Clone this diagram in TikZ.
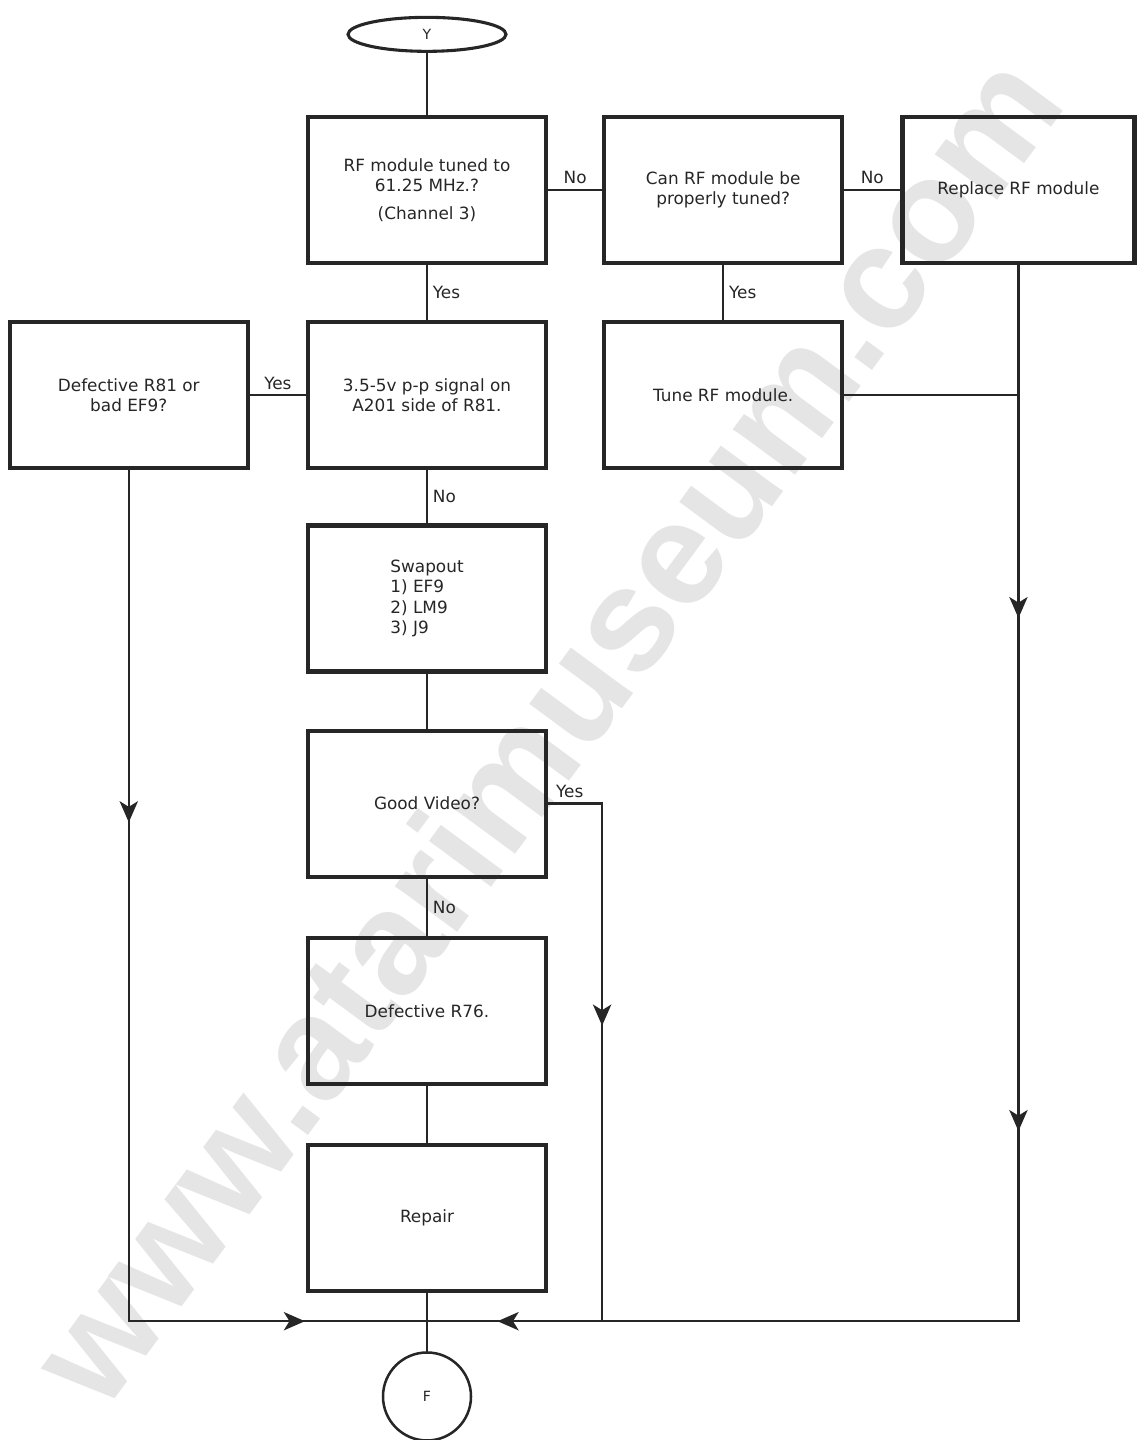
\documentclass[tikz,border=0pt]{standalone}
\usepackage{fontspec}
\setmainfont{DejaVu Sans}
\newfontfamily\markfont{Liberation Sans}
\usetikzlibrary{positioning,shapes.geometric,arrows.meta,decorations.markings}
\tikzset{
  stepbox/.style={draw=black!85, line width=3pt, minimum width=5.95cm, minimum height=3.65cm,
    align=center, font=\fontsize{12}{14.5}\selectfont, text=black!85},
  flow/.style={color=black!85, line width=1.7pt},
  >={Stealth[length=15pt,width=13pt,inset=4pt]},
}

\begin{document}
\begin{tikzpicture}[node distance=1.375cm, auto, every node/.append style={font=\fontsize{12}{14}\selectfont, text=black!85}]
\useasboundingbox (0,0) rectangle (28.4,-36);
\node [rotate=53.6, text=black!10, font=\markfont\bfseries\fontsize{104}{104}\selectfont] (mark) at (13.6,-18.2) {www.atarimuseum.com};
\node [stepbox] (tuned) at (10.675,-4.75) {RF module tuned to\\61.25 MHz.?\\[5pt](Channel 3)};
  \node [stepbox] (canTune) [right=1.35cm of tuned] {Can RF module be\\properly tuned?};
  \node [stepbox, minimum width=5.8cm] (replace) [right=1.4cm of canTune] {Replace RF module};
  \node [stepbox] (signal) [below=of tuned] {3.5-5v p-p signal on\\A201 side of R81.};
  \node [stepbox] (defR81) [left=1.4cm of signal] {Defective R81 or\\bad EF9?};
  \node [stepbox] (tune) [below=of canTune] {Tune RF module.};
  \node [stepbox, align=left] (swap) [below=1.325cm of signal] {Swapout\\1) EF9\\2) LM9\\3) J9};
  \node [stepbox] (video) [below=1.375cm of swap] {Good Video?};
  \node [stepbox] (defR76) [below=1.425cm of video] {Defective R76.};
  \node [stepbox] (repair) [below=1.425cm of defR76] {Repair};
  \node [ellipse, draw=black!85, line width=2.2pt, minimum width=3.95cm, minimum height=0.85cm, inner sep=0pt, font=\fontsize{10}{12}\selectfont] (start) [above=1.55cm of tuned] {Y};
  \coordinate [below=0.7cm of repair.south] (join);
  \node [circle, draw=black!85, line width=1.8pt, minimum size=2.2cm, font=\fontsize{10}{12}\selectfont] (finish) [below=0.75cm of join] {F};
  \coordinate (leftC) at (defR81.south |- join);
  \coordinate (rightC) at (replace.south |- join);
  \coordinate (tuneC) at (tune.east -| replace.south);
  \coordinate (yesC) at (tune.west |- video.east);
  \coordinate (yesB) at (yesC |- join);
   \draw [flow] (start) -- (tuned);
   \draw [flow] (tuned) to node [above] {No} (canTune);
   \draw [flow] (canTune) to node [above] {No} (replace);
   \draw [flow] (tuned) to node [right] {Yes} (signal);
   \draw [flow] (canTune) to node [right] {Yes} (tune);
   \draw [flow] (signal) to node [above] {Yes} (defR81);
   \draw [flow] (signal) to node [right] {No} (swap);
   \draw [flow] (swap) -- (video);
   \draw [flow] (video) to node [right] {No} (defR76);
   \draw [flow] (defR76) -- (repair);
   \draw [flow] (repair) -- (join) -- (finish);
   \draw [flow] (tune) -- (tuneC);
   \draw [flow, postaction={decorate}, decoration={markings,
      mark=at position 8.8cm with {\arrow{>}},
      mark=at position 25.675cm with {\arrow{>}}}] (defR81) -- (leftC) -- (join);
   \draw [flow, postaction={decorate}, decoration={markings,
      mark=at position 8.825cm with {\arrow{>}},
      mark=at position 21.65cm with {\arrow{>}},
      mark=at position 39.425cm with {\arrow{>}}}] (replace) -- (rightC) -- (join);
   \draw [flow, postaction={decorate}, decoration={markings,
      mark=at position 6.9cm with {\arrow{>}}}] (video.east) -- node [above, pos=0.4] {Yes} (yesC) -- (yesB);
\end{tikzpicture}
\end{document}
